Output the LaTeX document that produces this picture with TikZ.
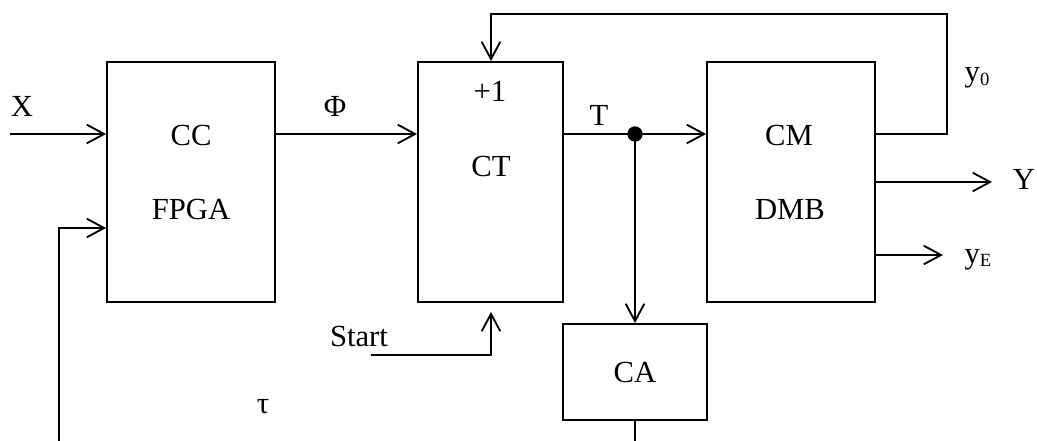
\documentclass[tikz,border=0pt]{standalone}
\usepackage{fontspec}
\setmainfont{Liberation Serif}
\usetikzlibrary{arrows.meta}
\tikzset{
  blk/.style={draw, line width=1.4pt, rectangle, inner sep=0pt},
  lbl/.style={inner sep=0pt, anchor=base, font=\fontsize{23}{27}\selectfont},
  arr/.style={-{Straight Barb[length=13pt,width=14pt,line width=1.4pt]}},
  wire/.style={line width=1.4pt},
}
\newcommand{\subsm}[1]{\raisebox{-0.25ex}{\fontsize{14}{14}\selectfont #1}}
\begin{document}
\begin{tikzpicture}[x=0.75pt,y=-0.75pt]
\useasboundingbox (0,0) rectangle (1037,441);
\begin{scope}
\clip (0,0) rectangle (1037,441);
% blocks
\node[blk, minimum width=168*0.75pt, minimum height=240*0.75pt] (cc) at (191,182) {};
\node[blk, minimum width=145*0.75pt, minimum height=240*0.75pt] (ct) at (490.5,182) {};
\node[blk, minimum width=168*0.75pt, minimum height=240*0.75pt] (cm) at (791,182) {};
\node[blk, minimum width=144*0.75pt, minimum height=96*0.75pt] (ca) at (635,372) {};
% block texts
\node[lbl] (tcc) at (191,146) {CC};
\node[lbl] (tfpga) at (191,220) {FPGA};
\node[lbl] (tp1) at (490,102) {+1};
\node[lbl] (tct) at (491,177) {CT};
\node[lbl] (tcm) at (789,146) {CM};
\node[lbl] (tdmb) at (790,220) {DMB};
\node[lbl] (tca) at (635,382) {CA};
% labels
\node[lbl] (lx) at (22,117) {X};
\node[lbl] (lphi) at (335,117) {Φ};
\node[lbl] (lt) at (599,126) {T};
\node[lbl] (ly0) at (977,82) {y\subsm{0}};
\node[lbl] (lY) at (1024,190) {Y};
\node[lbl] (lyE) at (978,263) {y\subsm{E}};
\node[lbl] (lstart) at (359,346) {Start};
\node[lbl] (ltau) at (263,413) {τ};
% coordinates
\coordinate (xin) at (10,134);
\node[circle, fill=black, inner sep=0pt, minimum size=11.5pt] (dot) at (635,134) {};
\coordinate (fb1) at (947,134);
\coordinate (fb2) at (947,14);
\coordinate (fb3) at (491,14);
\coordinate (yout) at (992,182);
\coordinate (yeout) at (943,255);
\coordinate (st0) at (371,355);
\coordinate (st1) at (491,355);
\coordinate (st2) at (491,312);
\coordinate (tau0) at (59,441);
\coordinate (tau1) at (59,228);
\coordinate (cabot) at (635,441);
% connectors
\draw[wire,arr] (xin) -- (xin -| cc.west);
\draw[wire,arr] (cc.east |- xin) -- (ct.west |- xin);
\draw[wire] (ct.east |- xin) -- (dot.center);
\draw[wire,arr] (dot.center) -- (cm.west |- xin);
\draw[wire,arr] (dot.center) -- (ca.north);
\draw[wire,arr] (cm.east |- xin) -- (fb1) -- (fb2) -- (fb3) -- (fb3 |- ct.north);
\draw[wire,arr] (cm.east |- yout) -- (yout);
\draw[wire,arr] (cm.east |- yeout) -- (yeout);
\draw[wire,arr] (st0) -- (st1) -- (st2);
\draw[wire,arr] (tau0) -- (tau1) -- (tau1 -| cc.west);
\draw[wire] (ca.south) -- (cabot);
\end{scope}
\end{tikzpicture}
\end{document}
